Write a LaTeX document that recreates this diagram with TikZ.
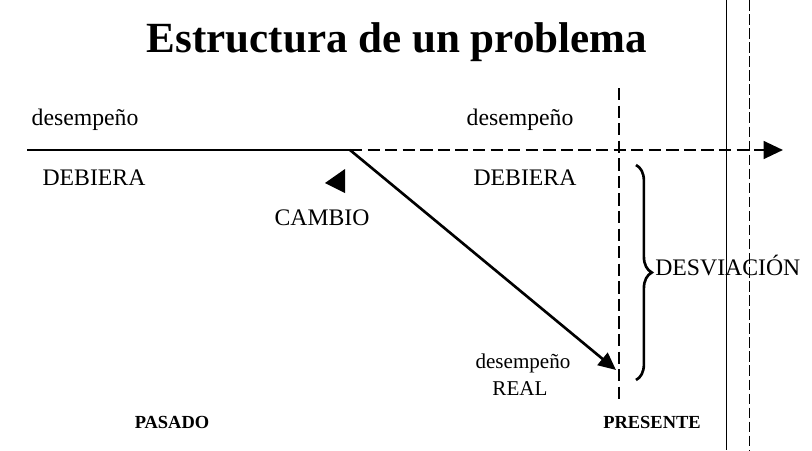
\documentclass[tikz,border=0pt]{standalone}
\usepackage{fontspec}
\setmainfont{Liberation Serif}
\usetikzlibrary{arrows.meta,decorations.pathreplacing}
\newcommand{\ep}{1.5pt}
\newcommand{\ampl}{9pt}
\tikzstyle{trait}=[line width=\ep]
\tikzstyle{tirets}=[trait, dash pattern=on 7pt off 3pt]
\tikzstyle{pointe}=[-{Triangle[length=11pt,width=10pt]}]
\tikzstyle{etiq}=[inner sep=0pt, anchor=base, font=\fontsize{13.5}{16}\selectfont]
\tikzstyle{petite}=[etiq, font=\fontsize{12}{14}\selectfont]
\tikzstyle{epoque}=[etiq, font=\fontsize{10.5}{12}\selectfont\bfseries]
\tikzstyle{scan}=[line width=0.5pt]

\begin{document}
\begin{tikzpicture}[x=0.02cm,y=-0.02cm]
\useasboundingbox (0,0) rectangle (812,450);

\node[etiq, font=\fontsize{24.5}{28}\selectfont\bfseries] (titre) at (397,52) {Estructura de un problema};

\coordinate (debut) at (27,150);
\coordinate (cambio) at (350,150);
\coordinate (fin) at (783,150);
\coordinate (real) at (616,370);
\coordinate (haut) at (619,88);
\coordinate (bas) at (619,400);
\coordinate (bh) at (636,165);
\coordinate (bb) at (636,380);

\draw[trait] (debut) -- (cambio);
\draw[tirets, pointe] (cambio) -- (fin);
\draw[trait, -{Triangle[length=10pt,width=9pt]}] (cambio) -- (real);
\draw[tirets] (haut) -- (bas);
\draw[trait, decorate, decoration={brace, amplitude=\ampl}] (bh) -- (bb);
\fill (325,183) -- (345,169) -- (345,193) -- cycle;

\node[etiq] (des1) at (85,125) {desempeño};
\node[etiq] (deb1) at (94,185) {DEBIERA};
\node[etiq] (des2) at (520,125) {desempeño};
\node[etiq] (deb2) at (525,185) {DEBIERA};
\node[etiq] (camb) at (322,225) {CAMBIO};
\node[etiq, anchor=base west] (desv) at (655,275) {DESVIACIÓN};
\node[petite] (des3) at (523,368) {desempeño};
\node[petite] (reel) at (520,395) {REAL};
\node[epoque] (pasado) at (172,428) {PASADO};
\node[epoque] (presente) at (652,428) {PRESENTE};

% traces du scan
\coordinate (s1h) at (726,0);
\coordinate (s1b) at (726,450);
\coordinate (s2h) at (749,0);
\coordinate (s2b) at (749,450);
\draw[scan] (s1h) -- (s1b);
\draw[scan, dash pattern=on 6pt off 2pt] (s2h) -- (s2b);

\end{tikzpicture}
\end{document}
